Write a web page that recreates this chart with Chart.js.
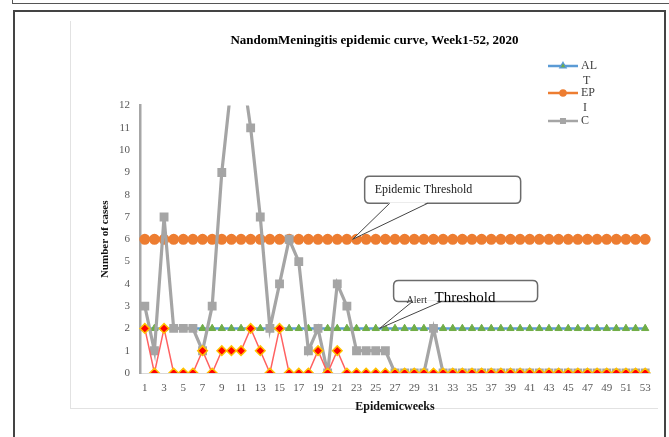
<!DOCTYPE html>
<html>
<head>
<meta charset="utf-8">
<script src="https://cdn.jsdelivr.net/npm/chart.js@4.4.0/dist/chart.umd.min.js"></script>
<style>
  html, body { margin: 0; padding: 0; background: #fff; }
  #wrap { position: relative; width: 669px; height: 437px; overflow: hidden; }
  #topbox { position: absolute; left: 12px; top: -20px; width: 700px; height: 24px; box-sizing: border-box; border: 1.5px solid #555; }
  #frame { position: absolute; left: 13px; top: 10px; width: 653px; height: 500px; box-sizing: border-box; border: 2px solid #444; }
  #inner { position: absolute; left: 70px; top: 21px; width: 588px; height: 388px; box-sizing: border-box; border-left: 1px solid #e2e2e2; border-bottom: 1px solid #e2e2e2; }
  canvas { position: absolute; left: 0; top: 0; }
</style>
</head>
<body>
<div id="wrap">
  <div id="topbox"></div>
  <div id="frame"></div>
  <div id="inner"></div>
  <canvas id="chart" width="669" height="437"></canvas>
</div>
<script>
const weeks = ['1','2','3','4','5','6','7','8','9','10','11','12','13','14','15','16','17','18','19','20',
  '21','22','23','24','25','26','27','28','29','30','31','32','33','34','35','36','37','38','39','40',
  '41','42','43','44','45','46','47','48','49','50','51','52','53'];

// weekly cases (gray) - weeks 10 and 11 run off the top of the chart
const cases = [3,1,7,2,2,2,1,3,9,13,14,11,7,2,4,6,5,1,2,0,
  4,3,1,1,1,1,0,0,0,0,2,0,0,0,0,0,0,0,0,0,
  0,0,0,0,0,0,0,0,0,0,0,0,0];

// red series (no legend entry)
const deaths = [2,0,2,0,0,0,1,0,1,1,1,2,1,0,2,0,0,0,1,0,
  1,0,0,0,0,0,0,0,0,0,0,0,0,0,0,0,0,0,0,0,
  0,0,0,0,0,0,0,0,0,0,0,0,0];

const alertLine = [2,2,2,2,2,2,2,2,2,2,2,2,2,2,2,2,2,2,2,2,
  2,2,2,2,2,2,2,2,2,2,2,2,2,2,2,2,2,2,2,2,
  2,2,2,2,2,2,2,2,2,2,2,2,2];

const epiLine = [6,6,6,6,6,6,6,6,6,6,6,6,6,6,6,6,6,6,6,6,
  6,6,6,6,6,6,6,6,6,6,6,6,6,6,6,6,6,6,6,6,
  6,6,6,6,6,6,6,6,6,6,6,6,6];

const yTicks = [0,1,2,3,4,5,6,7,8,9,10,11,12];

const SERIF = '"Liberation Serif", "DejaVu Serif", serif';

function roundBox(ctx, l, t, w, h, r) {
  ctx.beginPath();
  ctx.moveTo(l + r, t);
  ctx.lineTo(l + w - r, t);
  ctx.quadraticCurveTo(l + w, t, l + w, t + r);
  ctx.lineTo(l + w, t + h - r);
  ctx.quadraticCurveTo(l + w, t + h, l + w - r, t + h);
  ctx.lineTo(l + r, t + h);
  ctx.quadraticCurveTo(l, t + h, l, t + h - r);
  ctx.lineTo(l, t + r);
  ctx.quadraticCurveTo(l, t, l + r, t);
  ctx.closePath();
}

function callout(ctx, tx, ty, c) {
  const l = tx + c.dx, t = ty + c.dy;
  ctx.save();
  roundBox(ctx, l, t, c.w, c.h, 5);
  ctx.fillStyle = '#fff';
  ctx.fill();
  ctx.strokeStyle = '#6b6b6b';
  ctx.lineWidth = 1.5;
  ctx.stroke();
  const b = t + c.h;
  ctx.beginPath();
  ctx.moveTo(tx + c.b1, b - 1);
  ctx.lineTo(tx, ty);
  ctx.lineTo(tx + c.b2, b - 1);
  ctx.closePath();
  ctx.fillStyle = '#fff';
  ctx.fill();
  ctx.beginPath();
  ctx.moveTo(tx + c.b1, b);
  ctx.lineTo(tx, ty);
  ctx.lineTo(tx + c.b2, b);
  ctx.strokeStyle = '#444';
  ctx.lineWidth = 1;
  ctx.stroke();
  ctx.restore();
}

const extras = {
  id: 'extras',
  afterDatasetsDraw(chart) {
    const { ctx, scales: { x, y } } = chart;

    // Epidemic threshold callout
    const ex = x.getPixelForValue(21.6), ey = y.getPixelForValue(6);
    callout(ctx, ex, ey, { dx: 12, dy: -63, w: 156, h: 27, b1: 37, b2: 75 });
    ctx.save();
    ctx.fillStyle = '#222';
    ctx.textBaseline = 'middle';
    ctx.font = '12px ' + SERIF;
    ctx.fillText('Epidemic Threshold', ex + 22, ey - 49);
    ctx.restore();

    // Alert threshold callout
    const ax = x.getPixelForValue(24.4), ay = y.getPixelForValue(2);
    callout(ctx, ax, ay, { dx: 14, dy: -48, w: 144, h: 21, b1: 33, b2: 62 });
    ctx.save();
    ctx.textBaseline = 'middle';
    ctx.fillStyle = '#333';
    ctx.font = '10px ' + SERIF;
    ctx.fillText('Alert', ax + 27, ay - 28);
    ctx.fillStyle = '#000';
    ctx.font = '15px ' + SERIF;
    ctx.fillText('Threshold', ax + 55, ay - 30);
    ctx.restore();

    // legend
    ctx.save();
    ctx.lineCap = 'butt';
    const lx0 = 548, lx1 = 578;
    const items = [
      { y: 66, color: '#5B9BD5', lines: ['AL', 'T'], marker: 'triangle', mc: '#70AD47' },
      { y: 93, color: '#ED7D31', lines: ['EP', 'I'], marker: 'circle', mc: '#ED7D31' },
      { y: 121, color: '#A5A5A5', lines: ['C'], marker: 'rect', mc: '#A5A5A5' }
    ];
    items.forEach(it => {
      ctx.strokeStyle = it.color;
      ctx.lineWidth = 2.5;
      ctx.beginPath();
      ctx.moveTo(lx0, it.y);
      ctx.lineTo(lx1, it.y);
      ctx.stroke();
      Chart.helpers.drawPoint(ctx, { pointStyle: it.marker, radius: 2.5, borderWidth: 1, rotation: 0 }, (lx0 + lx1) / 2, it.y);
      ctx.fillStyle = it.mc;
      ctx.fill();
      ctx.fillStyle = '#404040';
      ctx.font = '12px ' + SERIF;
      ctx.textBaseline = 'middle';
      it.lines.forEach((s, i) => ctx.fillText(s, lx1 + 3 + (i ? 2 : 0), it.y + i * 15));
    });
    ctx.restore();
  }
};

new Chart(document.getElementById('chart'), {
  type: 'line',
  data: {
    labels: weeks,
    datasets: [
      {
        label: 'D',
        data: deaths,
        borderColor: '#FF6161',
        borderWidth: 1.5,
        pointStyle: 'rectRot',
        pointRadius: 4.8,
        pointBackgroundColor: '#FF0000',
        pointBorderColor: '#FFC000',
        pointBorderWidth: 1.5,
        tension: 0
      },
      {
        label: 'C',
        data: cases,
        borderColor: '#A5A5A5',
        borderWidth: 3.2,
        pointStyle: 'rect',
        pointRadius: 4,
        pointBackgroundColor: '#A5A5A5',
        pointBorderColor: '#A5A5A5',
        tension: 0
      },
      {
        label: 'EPI',
        data: epiLine,
        borderColor: '#ED7D31',
        borderWidth: 3,
        pointStyle: 'circle',
        pointRadius: 4,
        pointBackgroundColor: '#ED7D31',
        pointBorderColor: '#ED7D31',
        tension: 0
      },
      {
        label: 'ALT',
        data: alertLine,
        borderColor: '#5B9BD5',
        borderWidth: 2.5,
        pointStyle: 'triangle',
        pointRadius: 4.2,
        pointBackgroundColor: '#70AD47',
        pointBorderColor: '#70AD47',
        pointBorderWidth: 1,
        tension: 0
      }
    ]
  },
  options: {
    responsive: false,
    animation: false,
    layout: { padding: { left: 99, right: 19, top: 0, bottom: 23 } },
    plugins: {
      legend: { display: false },
      tooltip: { enabled: false },
      title: {
        display: true,
        text: 'NandomMeningitis epidemic curve, Week1-52, 2020',
        color: '#000',
        font: { family: SERIF, size: 13, weight: 'bold' },
        padding: { top: 33, bottom: 57 }
      }
    },
    scales: {
      x: {
        offset: true,
        grid: { display: false, drawTicks: false },
        border: { display: true, color: '#D9D9D9', width: 1 },
        ticks: {
          autoSkip: false,
          maxRotation: 0,
          padding: 9,
          color: '#595959',
          font: { family: SERIF, size: 11 },
          callback: (v, i) => (i % 2 === 0 ? weeks[i] : '')
        },
        title: {
          display: true,
          text: 'Epidemicweeks',
          color: '#111',
          font: { family: SERIF, size: 12, weight: 'bold' },
          padding: { top: 0, bottom: 0 }
        },
        afterFit: s => { s.height = 41; }
      },
      y: {
        min: yTicks[0],
        max: yTicks[yTicks.length - 1],
        grid: { display: false, drawTicks: false },
        border: { display: true, color: '#A6A6A6', width: 2.5 },
        afterBuildTicks: s => { s.ticks = yTicks.map(v => ({ value: v })); },
        ticks: {
          padding: 10,
          color: '#595959',
          font: { family: SERIF, size: 11 }
        },
        title: {
          display: true,
          text: 'Number of cases',
          color: '#111',
          font: { family: SERIF, size: 11, weight: 'bold' },
          padding: { top: 0, bottom: 0 }
        },
        afterFit: s => { s.width = 41; }
      }
    }
  },
  plugins: [extras]
});
</script>
</body>
</html>
